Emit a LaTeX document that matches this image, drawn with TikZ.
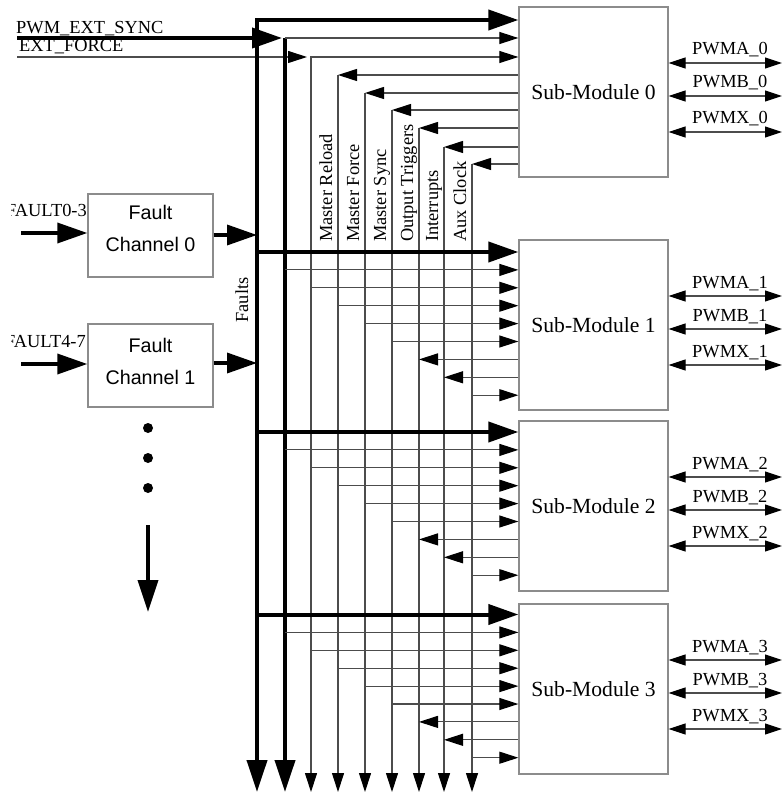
\documentclass[tikz,border=0pt]{standalone}
\usepackage{fontspec}
\setmainfont{Liberation Serif}
\newfontfamily\sansf{Liberation Sans}
\usetikzlibrary{arrows.meta}
\begin{document}
\begin{tikzpicture}[x=1pt,y=-1pt,
  thinl/.style={line width=1.1pt, draw=black!70},
  thickl/.style={line width=4pt, draw=black},
  bigtip/.style={-{Triangle[length=30pt,width=20pt,color=black]}},
  smalltip/.style={-{Triangle[length=19pt,width=12pt,color=black]}},
  both/.style={{Triangle[length=17pt,width=11pt,color=black]}-{Triangle[length=17pt,width=11pt,color=black]}},
  smbox/.style={draw=black!45, line width=1.3pt, minimum width=149pt, minimum height=170pt, inner sep=0pt, font=\fontsize{21.6}{24}\selectfont},
  fcbox/.style={draw=black!45, line width=1.3pt, minimum width=125pt, minimum height=83pt, inner sep=0pt},
  fctext/.style={align=center, inner sep=0pt, font=\sansf\fontsize{19.7}{32}\selectfont},
  lbl/.style={inner sep=0pt, font=\fontsize{18.4}{20}\selectfont},
]
\useasboundingbox (0,0) rectangle (782,794);

% sub-modules
\node[smbox] (sm0) at (593.5,92) {Sub-Module 0};
\node[smbox] (sm1) at (593.5,325) {Sub-Module 1};
\node[smbox] (sm2) at (593.5,506) {Sub-Module 2};
\node[smbox] (sm3) at (593.5,689) {Sub-Module 3};

% fault channels
\node[fcbox] (fc0) at (150.5,235.5) {};
\node[fctext] (fc0t) at (150.5,228) {Fault\\Channel 0};
\node[fcbox] (fc1) at (150.5,365.5) {};
\node[fctext] (fc1t) at (150.5,361) {Fault\\Channel 1};

% bus coordinates
\foreach \i/\x/\y in {1/257/20,2/285/38,3/311/57,4/338/75,5/365/93,6/392/110,7/419/128,8/444/147,9/472/164}{
  \coordinate (b\i) at (\x,792);
  \coordinate (t\i) at (\x,\y);
}

% external inputs
\coordinate (s0) at (17,38);
\coordinate (f0) at (17,57);
\node[lbl,anchor=base west] (syncl) at (16,34) {PWM\_EXT\_SYNC};
\node[lbl,anchor=base west] (forcel) at (19,52) {EXT\_FORCE};
\draw[thinl,smalltip] (f0) -- ([xshift=-4pt]t3);
\draw[thickl,bigtip] (s0) -- ([xshift=-3pt]t2);

% buses
\draw[thickl,{Triangle[length=32pt,width=20pt]}-{Triangle[length=30pt,width=20pt]}] (b1) -- (t1) -- (sm0.west |- t1);
\draw[thickl,-{Triangle[length=32pt,width=20pt]}] (t2) -- (b2);
\draw[thinl,smalltip] (t2) -- (sm0.west |- t2);
\draw[thinl,{Triangle[length=19pt,width=12pt,color=black]}-{Triangle[length=19pt,width=12pt,color=black]}] (b3) -- (t3) -- (sm0.west |- t3);
\foreach \i in {4,...,9}{
  \draw[thinl,smalltip] (t\i) -- (b\i);
  \draw[thinl,smalltip] (sm0.west |- t\i) -- (t\i);
}

% bus labels
\foreach \i/\t in {4/Master Reload,5/Master Force,6/Master Sync,7/Output Triggers,8/Interrupts,9/Aux Clock}{
  \node[lbl,rotate=90,anchor=base west] (lb\i) at ([xshift=-6pt]b\i |- 0,242) {\t};
}
\node[lbl,rotate=90,anchor=base] (faultsl) at (248,300) {Faults};

% sub-modules 1-3 inputs
\foreach \m/\ys in {1/252,2/432,3/614.5}{
  \foreach \k in {1,...,9}{\coordinate (r\m x\k) at (0,{\ys+17.9*(\k-1)});}
  \draw[thickl,bigtip] (b1 |- r\m x1) -- (sm\m.west |- r\m x1);
  \foreach \k in {2,3,4,5,6,9}{\draw[thinl,smalltip] (b\k |- r\m x\k) -- (sm\m.west |- r\m x\k);}
  \foreach \k in {7,8}{\draw[thinl,smalltip] (sm\m.west |- r\m x\k) -- (b\k |- r\m x\k);}
}

% PWM outputs
\foreach \m/\yt in {0/7,1/240,2/421,3/604}{
  \foreach \j/\o/\n in {1/56/A,2/89/B,3/125/X}{
    \coordinate (o\m\j) at (782,{\yt+\o});
    \draw[thinl,both] (sm\m.east |- o\m\j) -- (o\m\j);
    \node[lbl,anchor=base] (p\m\j) at (730,{\yt+\o-8}) {PWM\n\_\m};
  }
}

% fault inputs (labels cut at the left edge as in the source)
\begin{scope}
  \clip (11,190) rectangle (90,360);
  \node[lbl,anchor=base east] (fl0) at (87,217) {FAULT0-3};
  \node[lbl,anchor=base east] (fl1) at (86,347) {FAULT4-7};
\end{scope}
\coordinate (fi0) at (21,233);
\coordinate (fi1) at (21,364);
\draw[line width=3.5pt,bigtip] (fi0) -- (fc0.west |- fi0);
\draw[line width=3.5pt,bigtip] (fi1) -- (fc1.west |- fi1);
\coordinate (fo0) at (0,235);
\coordinate (fo1) at (0,363);
\draw[line width=3.5pt,bigtip] (fc0.east |- fo0) -- (b1 |- fo0);
\draw[line width=3.5pt,bigtip] (fc1.east |- fo1) -- (b1 |- fo1);

% more channels
\foreach \y in {428,458,488}{\fill (148,\y) circle (5);}
\coordinate (dn0) at (148,525);
\coordinate (dn1) at (148,612);
\draw[line width=3.5pt,-{Triangle[length=32pt,width=20pt]}] (dn0) -- (dn1);
\end{tikzpicture}
\end{document}
